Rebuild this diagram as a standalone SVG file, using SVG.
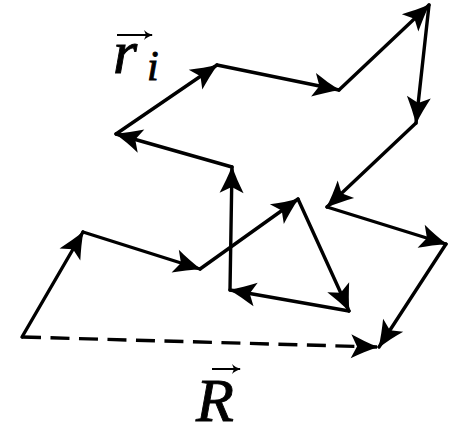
<svg xmlns="http://www.w3.org/2000/svg" width="457" height="429" viewBox="0 0 457 429">
<style>
.seg{stroke:#000;stroke-width:3.4;stroke-linecap:round;fill:none;marker-end:url(#ah)}
.dash{stroke:#000;stroke-width:3.4;fill:none;stroke-dasharray:19 9.5;marker-end:url(#ah)}
.lbl{font-family:"Liberation Serif","DejaVu Serif",serif;font-style:italic;fill:#000;stroke:#000;stroke-width:0.9}
.vec{stroke:#000;stroke-width:2;fill:none;marker-end:url(#sah)}
</style>
<defs>
<marker id="ah" markerUnits="userSpaceOnUse" viewBox="-30 -15 32 30" markerWidth="32" markerHeight="30" refX="0" refY="0" orient="auto" overflow="visible">
<path d="M1.5,0 C-8,-3 -18,-8 -26,-12 L-20,0 L-26,12 C-18,8 -8,3 1.5,0 Z" fill="#000"/>
</marker>
<marker id="sah" markerUnits="userSpaceOnUse" viewBox="-10 -6 12 12" markerWidth="12" markerHeight="12" refX="0" refY="0" orient="auto" overflow="visible">
<path d="M1,0 C-3,-1 -6,-3 -8,-5 L-6,0 L-8,5 C-6,3 -3,1 1,0 Z" fill="#000"/>
</marker>
</defs>
<rect width="457" height="429" fill="#fff"/>
<g id="connectors">
<line class="seg" x1="22" y1="337" x2="83" y2="232"/>
<line class="seg" x1="83" y1="232" x2="200" y2="269"/>
<line class="seg" x1="200" y1="269" x2="298" y2="199"/>
<line class="seg" x1="298" y1="199" x2="349" y2="311"/>
<line class="seg" x1="349" y1="311" x2="230" y2="290"/>
<line class="seg" x1="230" y1="290" x2="232" y2="167"/>
<line class="seg" x1="232" y1="167" x2="116" y2="134"/>
<line class="seg" x1="116" y1="134" x2="217" y2="65"/>
<line class="seg" x1="217" y1="65" x2="339" y2="90"/>
<line class="seg" x1="339" y1="90" x2="429" y2="5"/>
<line class="seg" x1="429" y1="5" x2="416" y2="123"/>
<line class="seg" x1="416" y1="123" x2="327" y2="207"/>
<line class="seg" x1="327" y1="207" x2="446" y2="244"/>
<line class="seg" x1="446" y1="244" x2="379" y2="347"/>
<line class="dash" x1="22" y1="337" x2="377" y2="347"/>
</g>
<g id="label-ri">
<text class="lbl" x="113" y="73" font-size="62">r</text>
<text class="lbl" x="147" y="80" font-size="42">i</text>
<line class="vec" x1="117" y1="35" x2="152" y2="35"/>
</g>
<g id="label-R">
<text class="lbl" x="196" y="421" font-size="62">R</text>
<line class="vec" x1="212" y1="369" x2="240" y2="369"/>
</g>
</svg>
